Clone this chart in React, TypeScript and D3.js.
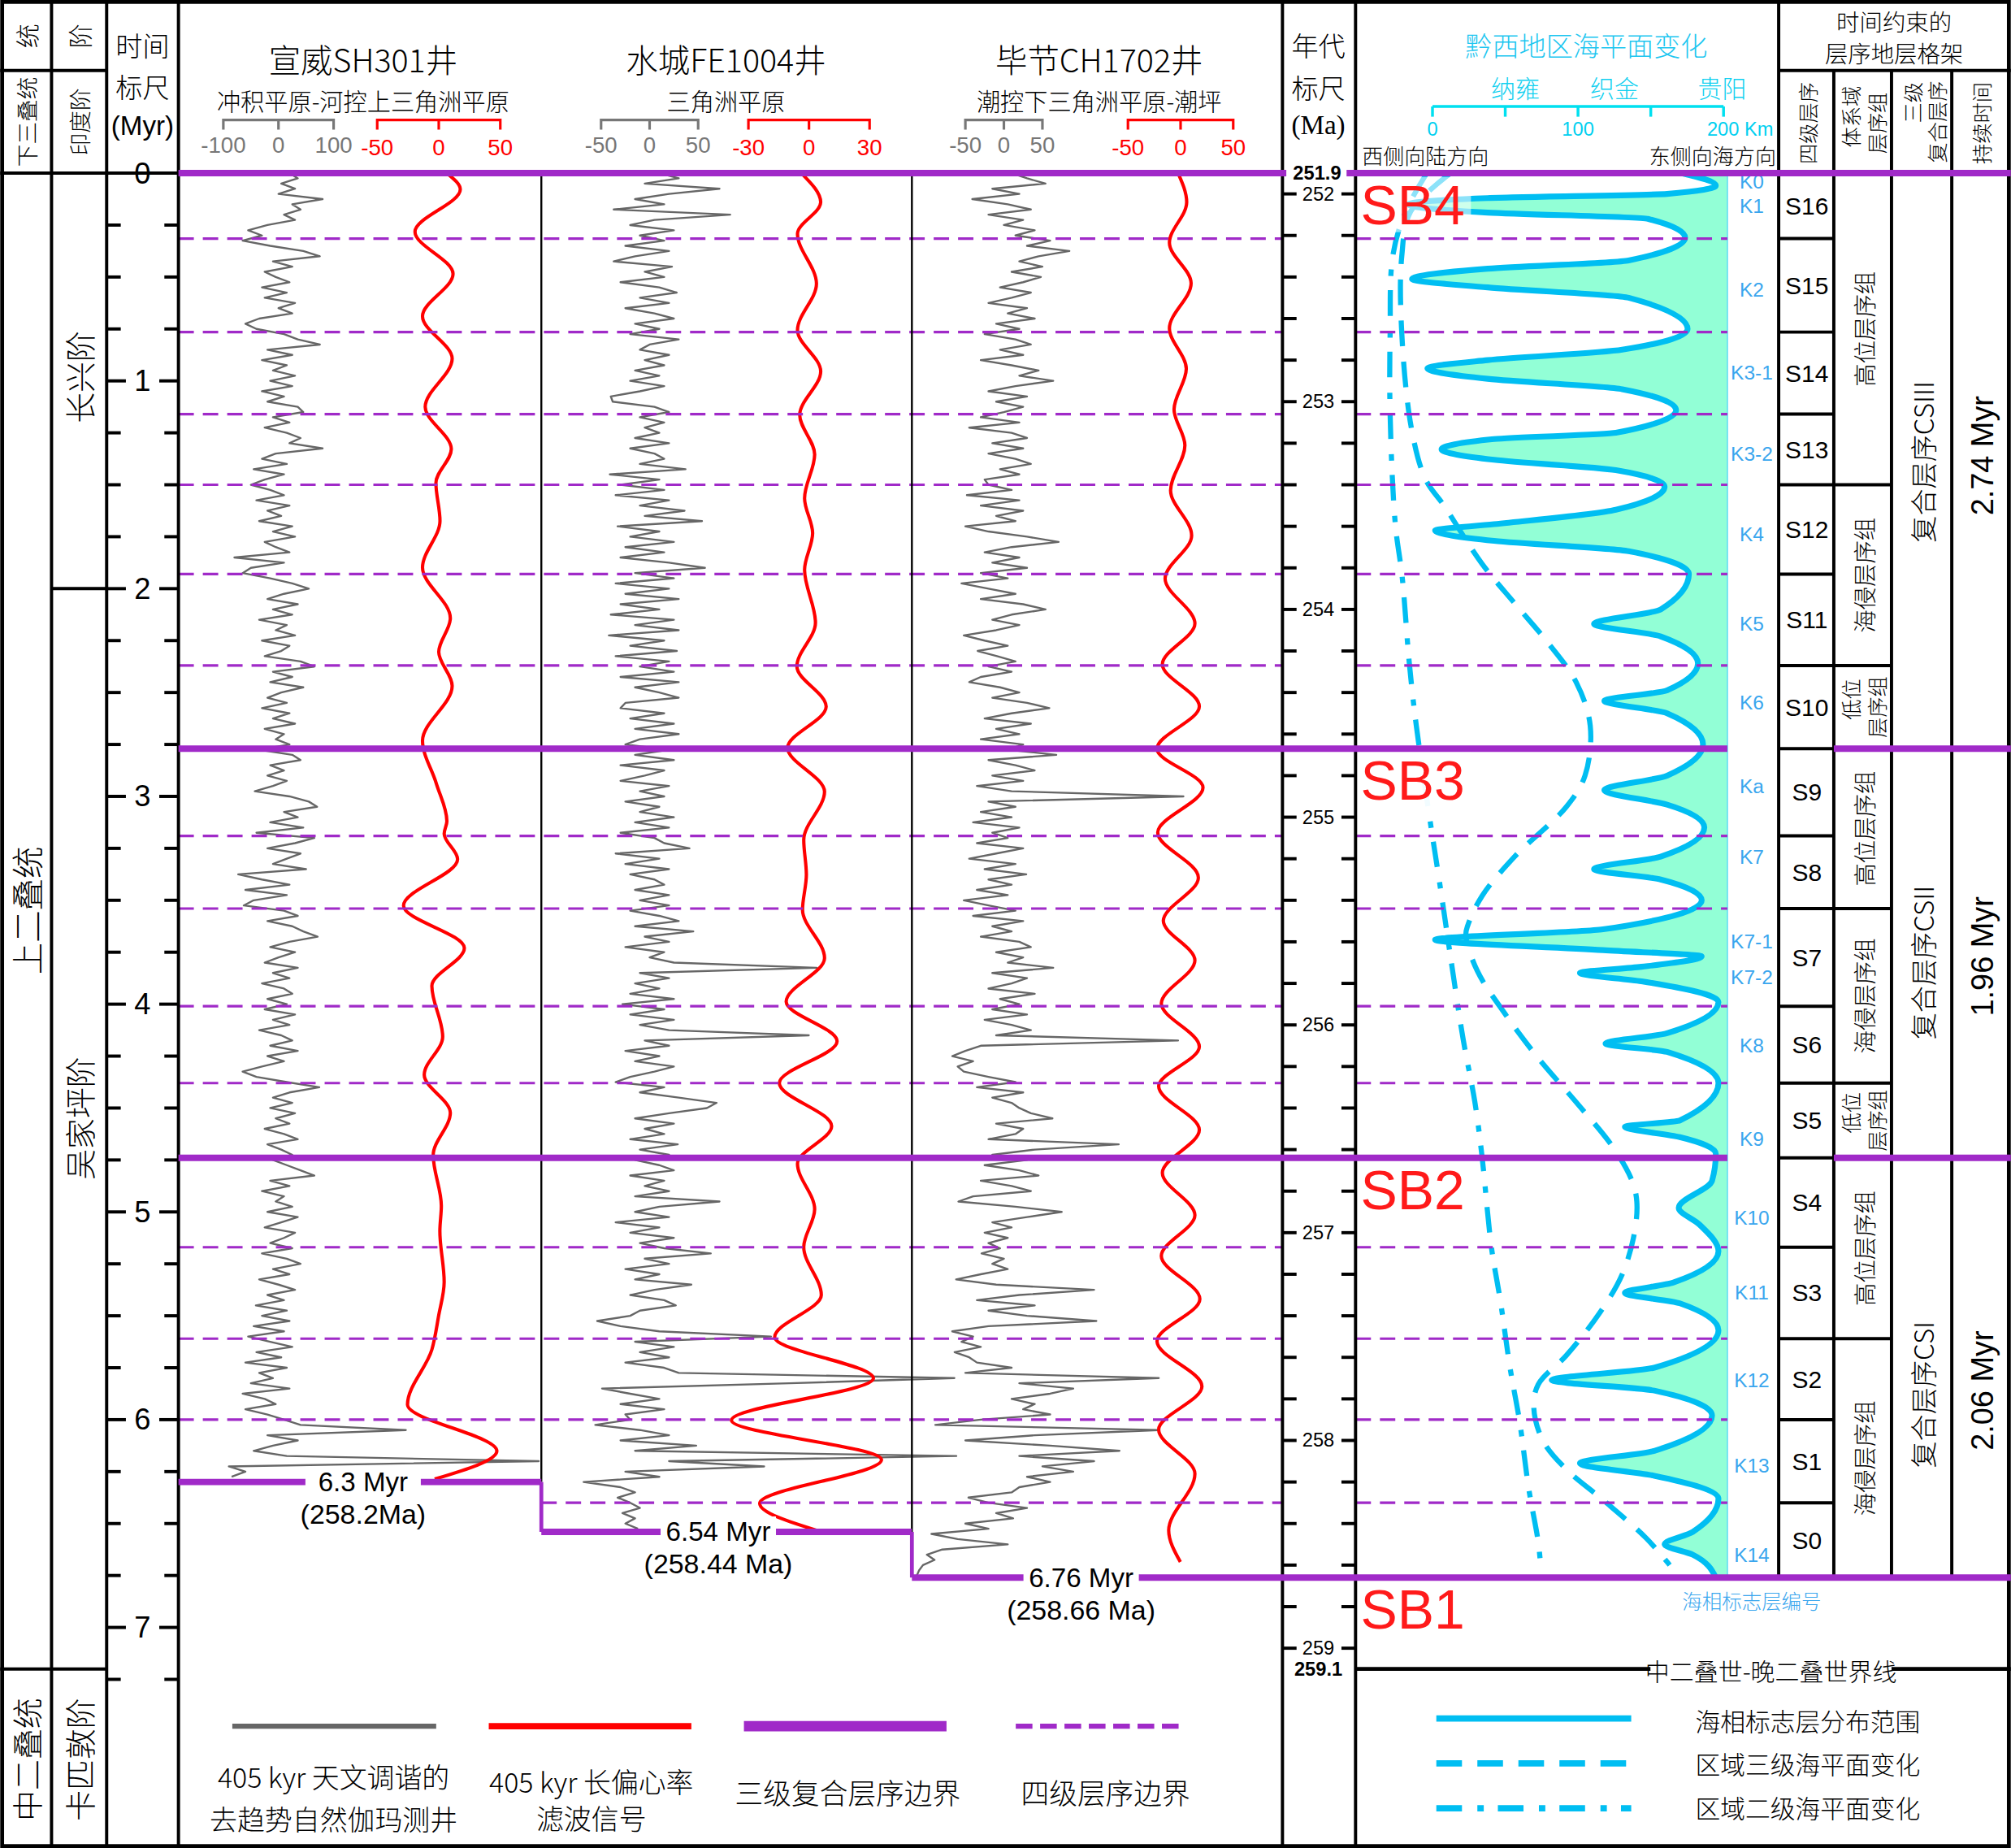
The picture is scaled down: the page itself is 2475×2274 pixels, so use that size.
import React, { useEffect } from "react";
import * as d3 from "d3";

// ---------- data ----------
// detrended natural gamma, one value every 0.025 Myr from 0 Myr
const GAMMA_STEP = 0.025;
const gammaSH301 = [
  20, 35, 5, 30, 0, 80, 25, 40, 10, 30, -20, -55, -30, -65, -15, 45, 75, -10, 25, -25,
  -5, 20, -30, 15, -25, 30, 0, 25, -35, -60, -40, 10, 35, 75, -20, 25, -30, 15, -10, 30,
  -15, 25, -30, 10, -20, 35, 45, -10, 20, -25, 15, 40, 20, 80, -5, -30, 15, -45, 10, -25,
  -50, -15, 10, -40, 20, -20, 5, -35, 25, -10, 30, -25, -5, 20, -80, 10, -50, -65, -15, 25,
  55, 10, -20, 35, -10, 25, -35, 15, -5, 30, -30, 20, 5, -25, 40, 65, -10, 25, -15, 45,
  5, -20, 15, -30, 20, -10, 30, -25, 10, -5, 20, -35, 25, 40, -15, 10, -20, 15, -10, -43,
  20, 55, 70, 10, 35, -15, 45, -40, 65, 30, -20, 40, 15, -10, 50, -73, -30, 20, -60, 15,
  -45, -63, 10, 35, -20, 25, 45, 71, 20, -15, 30, 0, -25, 35, -10, 20, -30, 10, 25, -20,
  15, -25, 30, -10, 20, -35, 5, 25, -15, 35, -20, 10, -30, -65, -40, 15, 74, 20, -10, 25,
  -15, 30, -5, 20, -25, 10, 35, -20, 5, 25, -10, 15, 40, 65, -15, 20, -30, 10, -5, 25,
  -20, 35, 5, -25, 30, 10, -15, 25, -30, 15, 40, -10, 20, -35, 0, 30, -20, 10, -41, 15,
  -30, 20, -45, 10, -55, -15, 25, -40, 5, -60, 15, -35, -10, -50, 20, -65, -25, -5, -60, -20,
  10, 40, 231, -20, 35, -10, -45, 15, 472, -90, -60, -85,
];
const gammaFE1004 = [
  10, 30, -5, 72, 20, -15, 15, -37, 83, 5, -20, 25, -10, 15, -25, 20, -15, -37, 23, -5,
  15, -30, 10, 28, -10, 20, -25, 5, 25, -15, 10, -20, 30, 0, -10, 20, -5, 15, -15, 10,
  -20, 15, -10, -40, -38, 5, 20, -10, 15, -5, 10, -15, 20, -20, 5, 15, -10, 37, -41, 10,
  -30, 15, -35, 20, -10, 36, -5, 54, -33, 10, -20, 25, -25, 15, -30, 20, 57, -15, 25, -35,
  20, -25, 30, -30, 10, -40, 25, -15, 30, -42, 15, -20, 28, -35, 20, -10, 25, -30, 30, -15,
  10, 30, -25, -30, 15, -20, 25, -15, 30, -10, -25, 20, -15, 25, -30, 15, -5, -30, 20, -10,
  15, -25, 10, -10, 25, -15, 20, -30, 5, 15, 41, -35, 10, -25, 20, -20, 5, 15, -15, 20,
  -10, 20, -20, 10, 30, -15, 45, -5, 20, -25, 15, 0, 25, 172, -10, 20, -15, 10, -20, 25,
  -28, 15, -20, 25, -10, 20, 164, -5, 20, -25, 10, -15, 25, 5, -20, -35, 15, -10, 30, 69,
  59, 20, -15, 25, -5, 15, -20, 29, -10, 20, -15, 10, 25, -20, 15, -5, 20, -15, 72, 10,
  -15, 20, -35, 10, -20, 25, -10, 15, 63, -5, 20, -25, 10, -15, 43, 5, -20, 15, 27, -10,
  -20, -54, -30, 10, 125, -15, 25, -10, 20, -25, 15, 30, 314, 144, -49, -20, 10, -30, 15, -25,
  -20, -56, -10, 20, -30, 48, -15, 316, 20, 118, -25, 10, -68, -30, -15, -33, -20, -10, -28, -15,
  -25, -12,
];
const gammaCH1702 = [
  10, 30, 54, -15, 20, -41, 5, 35, -20, 25, 0, 40, 15, 60, 30, 85, 45, 20, 50, 10,
  48, 25, -5, 35, 10, -20, 30, 5, 40, -10, 20, -25, 15, 35, -5, 25, -30, 10, 45, 20,
  64, 15, -20, 30, -10, 25, 0, -30, 20, -45, 10, 30, -15, 25, -20, 15, 35, -5, 20, -25,
  -20, 10, -48, 20, -30, 25, -10, 15, -50, -20, 30, 71, 10, -25, 20, -15, 30, -30, 5, -55,
  -20, 15, -30, 25, 54, 10, -15, 20, -10, -52, -25, 5, -34, -9, 15, -20, 10, -30, -45, -5,
  20, -15, 30, 59, 10, -25, 35, -10, 20, -30, 25, 5, 68, -20, 15, 40, -15, 25, -35, 10,
  233, -20, 15, -30, 10, -40, 20, -15, 5, -35, 25, -10, -45, 15, -25, 29, -20, 10, -35, 5,
  -52, -20, 15, -40, 25, -15, 10, -30, 20, 35, -10, 25, 5, 64, -15, 30, 10, -20, 40, -5,
  20, -15, 30, -25, 10, 35, -10, 226, -30, -50, -67, -40, -60, -52, -20, 15, -35, 25, -15, 10,
  20, 35, 63, -10, 25, 15, -20, 149, 40, -15, 30, -25, 20, 45, -30, 10, 35, -40, -59, 15,
  75, 30, -15, 10, -25, 5, -20, -5, -29, 0, -15, 5, -30, -62, -10, 117, 20, -35, 40, -20,
  30, 120, -20, -67, -40, -55, -30, -64, -45, -35, 10, -50, 201, 20, 90, 60, 10, 40, 25, 60,
  -30, -89, 201, 40, -50, 60, 150, 20, 117, 50, 90, 30, 60, 20, 10, -46, -20, 30, -10, 12,
  -50, -20, -94, -60, 5, -80, -100, -90, -105, -110, -113,
];

// 405 kyr eccentricity filter: turning points (time Myr, value)
const eccSH301T = [0.005, 0.078, 0.282, 0.485, 0.689, 0.893, 1.125, 1.328, 1.491, 1.674, 1.898, 2.142, 2.305, 2.468, 2.732, 2.936, 3.119, 3.18, 3.302, 3.526, 3.73, 3.912, 4.157, 4.34, 4.523, 4.727, 4.971, 5.093, 5.337, 5.5, 5.663, 5.928, 6.151, 6.286];
const eccSH301V = [7.6, 17.5, -19.3, 11.6, -13.2, 10.9, -11, 10.2, -2.3, 1, -13.2, 9.4, 0, 10.9, -13.2, -2.1, 6.6, 4.4, 15.3, -28.6, 20.8, -5.6, 3.2, -11.8, 9.4, -4.5, 2.1, 0.9, 4.4, -0.1, -5.6, -25.4, 47.2, -3.3];
const eccFE1004T = [0.006, 0.14, 0.292, 0.532, 0.756, 0.954, 1.164, 1.354, 1.565, 1.733, 1.91, 2.164, 2.374, 2.568, 2.766, 2.977, 3.209, 3.377, 3.546, 3.778, 3.988, 4.178, 4.38, 4.587, 4.768, 4.987, 5.169, 5.4, 5.603, 5.801, 6.003, 6.193, 6.403, 6.54];
const eccFE1004V = [-3.2, 5.8, -5.7, 3.7, -5.7, 5.8, -4.6, 2.8, -2.2, 1.8, -2.2, 3.2, -6, 8.5, -10.6, 7.7, -2.6, -1.3, -3.2, 7.7, -11.3, 13.9, -14.7, 11.2, -5.7, 2.8, -2.6, 6.1, -17, 31.9, -38.4, 35.9, -24.4, 6.1];
const eccCH1702T = [0.001, 0.14, 0.335, 0.53, 0.747, 0.942, 1.137, 1.31, 1.527, 1.744, 1.952, 2.168, 2.364, 2.567, 2.771, 2.957, 3.174, 3.391, 3.599, 3.789, 3.997, 4.205, 4.396, 4.605, 4.812, 5.016, 5.212, 5.419, 5.623, 5.84, 6.048, 6.26, 6.533, 6.685];
const eccCH1702V = [-2.3, 5.8, -10.6, 10, -10.6, 5.4, -6.2, 4.1, -9.5, 10.5, -14.7, 13.6, -17.3, 17.8, -22.4, 21.3, -21.7, 16.9, -16.4, 13.6, -18.3, 17.8, -20.8, 17.8, -17.3, 13.6, -18.3, 18.3, -22.4, 20.3, -20.8, 13.6, -11.3, -0.2];

const wellNames = ["宣威SH301井", "水城FE1004井", "毕节CH1702井"];
const wellFacies = ["冲积平原-河控上三角洲平原", "三角洲平原", "潮控下三角洲平原-潮坪"];
const grayTicks = [[-100, 0, 100], [-50, 0, 50], [-50, 0, 50]];
const redTicks = [[-50, 0, 50], [-30, 0, 30], [-50, 0, 50]];
const wellBaseMyr = [6.3, 6.54, 6.76];
const wellBaseLabel = ["6.3 Myr", "6.54 Myr", "6.76 Myr"];
const wellBaseAge = ["(258.2Ma)", "(258.44 Ma)", "(258.66 Ma)"];

// sequence boundaries (Myr)
const sb3rdTimes = [0, 2.77, 4.74];
const sb4thTimes = [0.315, 0.765, 1.16, 1.5, 1.93, 2.37, 3.19, 3.54, 4.01, 4.38, 5.17, 5.61, 6.0, 6.4];
const seqEdges = [0, 0.315, 0.765, 1.16, 1.5, 1.93, 2.37, 2.77, 3.19, 3.54, 4.01, 4.38, 4.74, 5.17, 5.61, 6.0, 6.4, 6.76];
const seqNames = ["S16", "S15", "S14", "S13", "S12", "S11", "S10", "S9", "S8", "S7", "S6", "S5", "S4", "S3", "S2", "S1", "S0"];
const tractNames = ["高位层序组", "海侵层序组", "低位|层序组", "高位层序组", "海侵层序组", "低位|层序组", "高位层序组", "海侵层序组"];
const tractFrom = [0, 1.5, 2.37, 2.77, 3.54, 4.38, 4.74, 5.61];
const tractTo = [1.5, 2.37, 2.77, 3.54, 4.38, 4.74, 5.61, 6.76];
const csNames = ["复合层序CSIII", "复合层序CSII", "复合层序CSI"];
const csLabelT = [1.39, 3.8, 5.88];
const csDuration = ["2.74 Myr", "1.96 Myr", "2.06 Myr"];
const csDurT = [1.36, 3.77, 5.86];
const sbNames = ["SB4", "SB3", "SB2", "SB1"];
const sbAges = [251.9, 254.67, 256.64, 258.66];

// sea-level panel (distance km, age Ma)
const seaKm = [170.9, 194.7, 161.2, 37.9, -16.7, 37.9, 148.0, 173.6, 134.8, 37.9, -14.1, 37.9, 134.8, 175.3, 130.4, 37.9, -3.5, 37.9, 130.4, 167.4, 126.0, 42.3, 6.2, 42.3, 126.0, 159.5, 126.0, 42.3, 1.8, 42.3, 134.8, 176.2, 156.8, 111.0, 156.8, 182.4, 161.2, 118.1, 161.2, 185.9, 161.2, 118.1, 161.2, 186.8, 156.8, 111.0, 156.8, 185.0, 117.2, 1.8, 117.2, 185.0, 143.6, 101.3, 143.6, 196.5, 161.2, 118.9, 161.2, 196.5, 170.0, 132.2, 170.0, 194.7, 192.1, 169.2, 183.3, 196.5, 165.6, 132.2, 170.0, 196.5, 152.4, 81.9, 152.4, 192.1, 152.4, 101.3, 152.4, 196.5, 178.9, 159.5, 178.9, 194.7];
const seaAge = [251.9, 251.96, 252.0, 252.02, 252.05, 252.09, 252.12, 252.21, 252.32, 252.36, 252.41, 252.45, 252.5, 252.65, 252.75, 252.8, 252.84, 252.89, 252.94, 253.04, 253.15, 253.18, 253.23, 253.28, 253.33, 253.41, 253.52, 253.59, 253.62, 253.67, 253.72, 253.83, 254.0, 254.07, 254.13, 254.26, 254.39, 254.44, 254.5, 254.65, 254.8, 254.87, 254.94, 255.05, 255.19, 255.25, 255.3, 255.4, 255.54, 255.59, 255.64, 255.67, 255.72, 255.75, 255.79, 255.89, 256.04, 256.09, 256.13, 256.28, 256.46, 256.49, 256.54, 256.62, 256.75, 256.88, 256.96, 257.09, 257.24, 257.29, 257.34, 257.47, 257.65, 257.71, 257.76, 257.88, 258.05, 258.11, 258.17, 258.28, 258.44, 258.5, 258.55, 258.66];
const sea3Km = [11.5, -15.0, -21.1, -21.1, -14.3, -4.7, 7.9, 34.0, 56.4, 79.3, 98.7, 108.4, 104.8, 92.0, 56.4, 34.0, 24.3, 22.9, 30.8, 50.2, 72.7, 98.5, 124.2, 137.1, 140.4, 138.8, 130.4, 114.5, 92.1, 72.7, 69.6, 75.8, 92.1, 117.8, 146.8, 163.0];
const sea3Age = [251.906, 252.085, 252.3, 252.67, 253.135, 253.375, 253.5, 253.78, 253.97, 254.16, 254.35, 254.56, 254.8, 254.95, 255.19, 255.38, 255.52, 255.57, 255.74, 255.95, 256.16, 256.37, 256.59, 256.75, 256.85, 257.0, 257.2, 257.39, 257.59, 257.73, 257.84, 258.0, 258.14, 258.29, 258.47, 258.6];
const sea2Km = [-4.4, -18.5, -27.3, -29.1, -29.1, -25.6, -20.8, -15.9, -11.1, -1.8, 5.0, 13.0, 21.1, 29.1, 34.0, 40.5, 46.7, 53.3, 59.9, 66.1, 72.7, 74.3];
const sea2Age = [251.906, 252.085, 252.3, 252.67, 253.06, 253.585, 253.845, 254.26, 254.56, 255.01, 255.32, 255.7, 256.07, 256.37, 256.63, 257.07, 257.33, 257.65, 257.91, 258.23, 258.49, 258.6];
const markerNames = ["K0", "K1", "K2", "K3-1", "K3-2", "K4", "K5", "K6", "Ka", "K7", "K7-1", "K7-2", "K8", "K9", "K10", "K11", "K12", "K13", "K14"];
const markerAge = [251.94, 252.06, 252.46, 252.86, 253.25, 253.64, 254.07, 254.45, 254.85, 255.19, 255.6, 255.77, 256.1, 256.55, 256.93, 257.29, 257.71, 258.12, 258.55];
const distTicks = [0, 50, 100, 150, 200];
const distLabels = ["0", "100", "200 Km"];
const distLabelKm = [0, 100, 200];
const townNames = ["纳雍", "织金", "贵阳"];
const townKm = [57, 125, 199];
const ageLabels = [252, 253, 254, 255, 256, 257, 258, 259];
const myrLabels = [0, 1, 2, 3, 4, 5, 6, 7];

// ---------- layout ----------
const W = 1568;
const H = 1441;
const TOP = 135;
const CJK = '"Noto Sans CJK SC", "Noto Sans", sans-serif';
const LAT = '"Liberation Sans", Arial, sans-serif';
const PURPLE = "#A02AC8";
const CYAN = "#00BEF2";
const KBLUE = "#3AA6EE";
const wellLeft = [139, 422, 711];
const wellRight = [422, 711, 1000];
const wellCx = [283, 566, 857];
const grayRange = [[174, 260], [468.6, 544.3], [752.7, 812.8]];
const redRange = [[294, 390], [583.5, 678], [879.5, 961.6]];
const baseLabelX = [283, 560, 843];
const FILL_R = 1347;

const yT = d3.scaleLinear().domain([0, 1]).range([TOP, TOP + 162]);
const yA = d3.scaleLinear().domain([251.9, 252.9]).range([TOP, TOP + 162]);
const xKm = d3.scaleLinear().domain([0, 200]).range([1117, 1344]);

const VText = ({ x, y, size, children, fill = "#000", family = CJK, weight = 300 }: any) => (
  <text
    transform={`translate(${x},${y}) rotate(-90)`}
    textAnchor="middle"
    dominantBaseline="central"
    fontSize={size}
    fill={fill}
    fontFamily={family}
    fontWeight={weight}
  >
    {children}
  </text>
);

const T = ({ x, y, size, children, anchor = "middle", fill = "#000", family = CJK, weight = 300 }: any) => (
  <text x={x} y={y} textAnchor={anchor} dominantBaseline="central" fontSize={size} fill={fill} fontFamily={family} fontWeight={weight}>
    {children}
  </text>
);

export default function App() {
  useEffect(() => {
    document.body.style.margin = "0";
  }, []);

  const gammas = [gammaSH301, gammaFE1004, gammaCH1702];
  const eccT = [eccSH301T, eccFE1004T, eccCH1702T];
  const eccV = [eccSH301V, eccFE1004V, eccCH1702V];

  const gx = grayTicks.map((tk, i) => d3.scaleLinear().domain([tk[0], tk[2]]).range(grayRange[i]));
  const rx = redTicks.map((tk, i) => d3.scaleLinear().domain([tk[0], tk[2]]).range(redRange[i]));

  const grayPaths = gammas.map((g, w) =>
    d3.line<number>().x((v) => gx[w](v)).y((_, i) => yT(i * GAMMA_STEP))(g)
  );
  const redPaths = eccV.map((vals, w) =>
    d3
      .line<number>()
      .curve(d3.curveMonotoneY)
      .x((v) => rx[w](v))
      .y((_, i) => yT(eccT[w][i]))(vals)
  );

  const seaFill = d3
    .area<number>()
    .curve(d3.curveMonotoneY)
    .y((_, i) => yA(seaAge[i]))
    .x0((v) => xKm(v))
    .x1(FILL_R)(seaKm);
  const seaLine = d3
    .line<number>()
    .curve(d3.curveMonotoneY)
    .x((v) => xKm(v))
    .y((_, i) => yA(seaAge[i]))(seaKm);
  const sea3Line = d3
    .line<number>()
    .curve(d3.curveCatmullRom)
    .x((v) => xKm(v))
    .y((_, i) => yA(sea3Age[i]))(sea3Km);
  const sea2Line = d3
    .line<number>()
    .curve(d3.curveCatmullRom)
    .x((v) => xKm(v))
    .y((_, i) => yA(sea2Age[i]))(sea2Km);

  const myrTicks = d3.range(0, 7.26, 0.25);
  const ageTicks = d3.range(252, 259.01, 0.2);
  const yEnd = yT(6.76);

  return (
    <svg width={2475} height={2274} viewBox={`0 0 ${W} ${H}`} style={{ display: "block", background: "#fff" }}>
      <rect x={0} y={0} width={W} height={H} fill="#fff" />

      {/* ---------- sea-level panel ---------- */}
      <path d={seaFill || ""} fill="#92FFD6" />
      <line x1={FILL_R} x2={FILL_R} y1={TOP} y2={yEnd} stroke="#70E4F0" strokeWidth={1.2} />
      <path d={sea2Line || ""} fill="none" stroke={CYAN} strokeWidth={4} strokeDasharray="20,12,5,11" />
      <path d={sea3Line || ""} fill="none" stroke={CYAN} strokeWidth={4} strokeDasharray="20,12" />
      <path d={seaLine || ""} fill="none" stroke={CYAN} strokeWidth={4.5} />
      {markerNames.map((k, i) => (
        <T key={k} x={1366} y={yA(markerAge[i])} size={15.5} fill={KBLUE} family={LAT} weight={400}>
          {k}
        </T>
      ))}

      {/* ---------- wells ---------- */}
      {grayPaths.map((p, i) => (
        <path key={"g" + i} d={p || ""} fill="none" stroke="#666" strokeWidth={1.5} strokeLinejoin="round" />
      ))}
      {redPaths.map((p, i) => (
        <path key={"r" + i} d={p || ""} fill="none" stroke="#FF0000" strokeWidth={2.6} />
      ))}

      {/* fourth-order boundaries */}
      {sb4thTimes.map((t) => {
        const y = yT(t);
        const x0 = t > wellBaseMyr[0] ? wellLeft[1] : wellLeft[0];
        return (
          <g key={"d" + t}>
            <line x1={x0} x2={1000} y1={y} y2={y} stroke={PURPLE} strokeWidth={2} strokeDasharray="12,7" />
            <line x1={1057} x2={FILL_R} y1={y} y2={y} stroke={PURPLE} strokeWidth={2} strokeDasharray="12,7" />
            <line x1={1387} x2={1430} y1={y} y2={y} stroke="#000" strokeWidth={2.5} />
          </g>
        );
      })}

      {/* ---------- frame ---------- */}
      <g stroke="#000" strokeWidth={2.5}>
        <line x1={40} x2={40} y1={0} y2={H} />
        <line x1={83} x2={83} y1={0} y2={H} />
        <line x1={139} x2={139} y1={0} y2={H} />
        <line x1={1000} x2={1000} y1={0} y2={H} />
        <line x1={1057} x2={1057} y1={0} y2={H} />
        <line x1={1387} x2={1387} y1={0} y2={yEnd} />
        <line x1={1430} x2={1430} y1={55} y2={yEnd} />
        <line x1={1475} x2={1475} y1={55} y2={yEnd} />
        <line x1={1522} x2={1522} y1={55} y2={yEnd} />
        <line x1={0} x2={83} y1={55} y2={55} />
        <line x1={1387} x2={W} y1={55} y2={55} />
        <line x1={0} x2={139} y1={TOP} y2={TOP} />
        <line x1={40} x2={83} y1={yT(2)} y2={yT(2)} />
        <line x1={0} x2={83} y1={yT(7.2)} y2={yT(7.2)} />
        <line x1={1057} x2={W} y1={yT(7.2)} y2={yT(7.2)} strokeWidth={3} />
        {tractFrom.map((t, i) =>
          i === 0 || sb3rdTimes.includes(t) ? null : (
            <line key={"tr" + i} x1={1430} x2={1475} y1={yT(t)} y2={yT(t)} />
          )
        )}
        {sb3rdTimes.slice(1).map((t) => (
          <line key={"sbk" + t} x1={1387} x2={1430} y1={yT(t)} y2={yT(t)} />
        ))}
      </g>
      <line x1={wellRight[0]} x2={wellRight[0]} y1={TOP} y2={yT(wellBaseMyr[0])} stroke="#000" strokeWidth={1.5} />
      <line x1={wellRight[1]} x2={wellRight[1]} y1={TOP} y2={yT(wellBaseMyr[1])} stroke="#000" strokeWidth={1.5} />
      <rect x={1.5} y={1.5} width={W - 3} height={H - 3} fill="none" stroke="#000" strokeWidth={3} />

      {/* time scale (Myr) */}
      {myrTicks.map((t) => {
        const major = Math.abs(t - Math.round(t)) < 1e-6;
        const y = yT(t);
        return (
          <g key={"mt" + t} stroke="#000" strokeWidth={2.5}>
            <line x1={83} x2={major ? 98 : 94} y1={y} y2={y} />
            <line x1={major ? 124 : 128} x2={139} y1={y} y2={y} />
          </g>
        );
      })}
      {myrLabels.map((m) => (
        <T key={"ml" + m} x={111} y={yT(m)} size={23} family={LAT} weight={400}>
          {m}
        </T>
      ))}

      {/* age scale (Ma) */}
      {ageTicks.map((a) => {
        const y = yA(a);
        return (
          <g key={"at" + a.toFixed(1)} stroke="#000" strokeWidth={2.5}>
            <line x1={1000} x2={1011} y1={y} y2={y} />
            <line x1={1046} x2={1057} y1={y} y2={y} />
          </g>
        );
      })}
      {ageLabels.map((a) => (
        <T key={"al" + a} x={1028} y={yA(a)} size={15} family={LAT} weight={400}>
          {a}
        </T>
      ))}

      {/* third-order boundaries */}
      <g stroke={PURPLE} strokeWidth={5}>
        <line x1={139} x2={W} y1={TOP} y2={TOP} />
        {sb3rdTimes.slice(1).map((t) => (
          <g key={"sb" + t}>
            <line x1={139} x2={FILL_R} y1={yT(t)} y2={yT(t)} />
            <line x1={1430} x2={W} y1={yT(t)} y2={yT(t)} />
          </g>
        ))}
        <line x1={139} x2={wellRight[0]} y1={yT(wellBaseMyr[0])} y2={yT(wellBaseMyr[0])} />
        <line x1={wellLeft[1]} x2={wellRight[1]} y1={yT(wellBaseMyr[1])} y2={yT(wellBaseMyr[1])} />
        <line x1={wellLeft[2]} x2={W} y1={yT(wellBaseMyr[2])} y2={yT(wellBaseMyr[2])} />
        <line x1={wellRight[0]} x2={wellRight[0]} y1={yT(wellBaseMyr[0])} y2={yT(wellBaseMyr[1])} strokeWidth={3} />
        <line x1={wellRight[1]} x2={wellRight[1]} y1={yT(wellBaseMyr[1])} y2={yT(wellBaseMyr[2])} strokeWidth={3} />
      </g>

      {/* bold age marks */}
      <rect x={1003} y={yA(251.9) - 9} width={47} height={18} fill="#fff" />
      <T x={1027} y={yA(251.9)} size={15} family={LAT} weight="bold">251.9</T>
      <T x={1028} y={yA(259.1)} size={15} family={LAT} weight="bold">259.1</T>

      {/* well base labels */}
      {wellBaseMyr.map((m, i) => (
        <g key={"wb" + i}>
          <rect x={baseLabelX[i] - 45} y={yT(m) - 12} width={90} height={24} fill="#fff" />
          <T x={baseLabelX[i]} y={yT(m)} size={21} family={LAT} weight={400}>{wellBaseLabel[i]}</T>
          <T x={baseLabelX[i]} y={yT(m) + 25} size={21.5} family={LAT} weight={400}>{wellBaseAge[i]}</T>
        </g>
      ))}

      {/* SB labels */}
      {sbNames.map((s, i) => (
        <g key={s}>
          <rect x={1059} y={yA(sbAges[i]) + 3} width={88} height={43} fill="#fff" opacity={i === 0 ? 0.55 : 0.95} />
          <text x={1061} y={yA(sbAges[i]) + 25} dominantBaseline="central" fontSize={43} fill="#FF1A1A" fontFamily={LAT}>
            {s}
          </text>
        </g>
      ))}

      {/* ---------- headers ---------- */}
      <VText x={20} y={28} size={19}>统</VText>
      <VText x={61} y={28} size={19}>阶</VText>
      <VText x={20} y={95} size={17.5}>下三叠统</VText>
      <VText x={61} y={95} size={17.5}>印度阶</VText>
      <T x={111} y={35} size={21}>时间</T>
      <T x={111} y={67} size={21}>标尺</T>
      <T x={111} y={98} size={21} family={LAT} weight={400}>(Myr)</T>
      <VText x={20} y={710} size={25}>上二叠统</VText>
      <VText x={61} y={294} size={24}>长兴阶</VText>
      <VText x={61} y={872} size={24}>吴家坪阶</VText>
      <VText x={20} y={1372} size={24}>中二叠统</VText>
      <VText x={61} y={1372} size={24}>卡匹敦阶</VText>

      {wellNames.map((n, i) => (
        <g key={n}>
          <T x={wellCx[i]} y={45} size={25}>{n}</T>
          <T x={wellCx[i]} y={78} size={18.5}>{wellFacies[i]}</T>
          <path
            d={`M${grayRange[i][0]},101V93.5H${grayRange[i][1]}V101M${gx[i](0)},93.5V101`}
            fill="none"
            stroke="#777"
            strokeWidth={2}
          />
          <path
            d={`M${redRange[i][0]},101V93.5H${redRange[i][1]}V101M${rx[i](0)},93.5V101`}
            fill="none"
            stroke="#FF0000"
            strokeWidth={2}
          />
          {grayTicks[i].map((v) => (
            <T key={"gt" + v} x={gx[i](v)} y={113} size={17.5} fill="#777" family={LAT} weight={400}>{v}</T>
          ))}
          {redTicks[i].map((v) => (
            <T key={"rt" + v} x={rx[i](v)} y={115} size={17.5} fill="#FF0000" family={LAT} weight={400}>{v}</T>
          ))}
        </g>
      ))}

      <T x={1028} y={35} size={21}>年代</T>
      <T x={1028} y={68} size={21}>标尺</T>
      <T x={1028} y={97} size={21} family='"Liberation Serif", serif' weight={400}>(Ma)</T>

      <T x={1237} y={35} size={21} fill="#1CC6F0">黔西地区海平面变化</T>
      {townNames.map((n, i) => (
        <T key={n} x={xKm(townKm[i])} y={68} size={19} fill="#10D0F0">{n}</T>
      ))}
      <line x1={xKm(0)} x2={xKm(200)} y1={83} y2={83} stroke="#00E0F0" strokeWidth={2.2} />
      {distTicks.map((d) => (
        <line key={"dt" + d} x1={xKm(d)} x2={xKm(d)} y1={83} y2={91} stroke="#00E0F0" strokeWidth={2.2} />
      ))}
      {distLabels.map((l, i) => (
        <T key={l} x={xKm(distLabelKm[i]) + (i === 2 ? 13 : 0)} y={101} size={15} fill="#00D0F0" family={LAT} weight={400}>{l}</T>
      ))}
      <T x={1062} y={121} size={16.5} anchor="start">西侧向陆方向</T>
      <T x={1385} y={121} size={16.5} anchor="end">东侧向海方向</T>

      <T x={1477} y={16} size={18}>时间约束的</T>
      <T x={1477} y={41} size={18}>层序地层格架</T>
      <VText x={1409} y={96} size={16}>四级层序</VText>
      <VText x={1443} y={91} size={16}>体系域</VText>
      <VText x={1463} y={96} size={16}>层序组</VText>
      <VText x={1491} y={80} size={16}>三级</VText>
      <VText x={1510} y={95} size={16}>复合层序</VText>
      <VText x={1545} y={96} size={16}>持续时间</VText>

      {seqNames.map((s, i) => (
        <T key={s} x={1409} y={(yT(seqEdges[i]) + yT(seqEdges[i + 1])) / 2} size={19} family={LAT} weight={400}>{s}</T>
      ))}
      {tractNames.map((n, i) => {
        const yc = (yT(tractFrom[i]) + yT(tractTo[i])) / 2;
        const parts = n.split("|");
        return parts.length === 1 ? (
          <VText key={"tn" + i} x={1453} y={yc} size={18}>{n}</VText>
        ) : (
          <g key={"tn" + i}>
            <VText x={1443} y={yc - 6} size={16}>{parts[0]}</VText>
            <VText x={1463} y={yc} size={16}>{parts[1]}</VText>
          </g>
        );
      })}
      {csNames.map((n, i) => (
        <VText key={n} x={1499} y={yT(csLabelT[i])} size={21}>{n}</VText>
      ))}
      {csDuration.map((n, i) => (
        <VText key={n} x={1546} y={yT(csDurT[i])} size={24} family={LAT} weight={400}>{n}</VText>
      ))}

      {/* ---------- legends ---------- */}
      <line x1={181} x2={340} y1={1346} y2={1346} stroke="#666" strokeWidth={4} />
      <line x1={381} x2={539} y1={1346} y2={1346} stroke="#FF0000" strokeWidth={5} />
      <line x1={580} x2={738} y1={1346} y2={1346} stroke={PURPLE} strokeWidth={8} />
      <line x1={792} x2={925} y1={1346} y2={1346} stroke={PURPLE} strokeWidth={4} strokeDasharray="13,6" />
      <T x={260} y={1385} size={21.5}>405 kyr 天文调谐的</T>
      <T x={260} y={1418} size={21.5}>去趋势自然伽玛测井</T>
      <T x={461} y={1389} size={21.5}>405 kyr 长偏心率</T>
      <T x={461} y={1417} size={21.5}>滤波信号</T>
      <T x={661} y={1397} size={22}>三级复合层序边界</T>
      <T x={862} y={1397} size={22}>四级层序边界</T>

      <T x={1366} y={1248} size={15.5} fill={KBLUE}>海相标志层编号</T>
      <rect x={1287} y={yT(7.2) - 12} width={188} height={24} fill="#fff" />
      <T x={1381} y={yT(7.2) + 1} size={19}>中二叠世-晚二叠世界线</T>
      <line x1={1120} x2={1272} y1={1340} y2={1340} stroke={CYAN} strokeWidth={5} />
      <line x1={1120} x2={1272} y1={1375} y2={1375} stroke={CYAN} strokeWidth={5} strokeDasharray="20,12" />
      <line x1={1120} x2={1272} y1={1410} y2={1410} stroke={CYAN} strokeWidth={5} strokeDasharray="20,12,5,11" />
      <T x={1322} y={1341} size={19.5} anchor="start">海相标志层分布范围</T>
      <T x={1322} y={1375} size={19.5} anchor="start">区域三级海平面变化</T>
      <T x={1322} y={1409} size={19.5} anchor="start">区域二级海平面变化</T>
    </svg>
  );
}
